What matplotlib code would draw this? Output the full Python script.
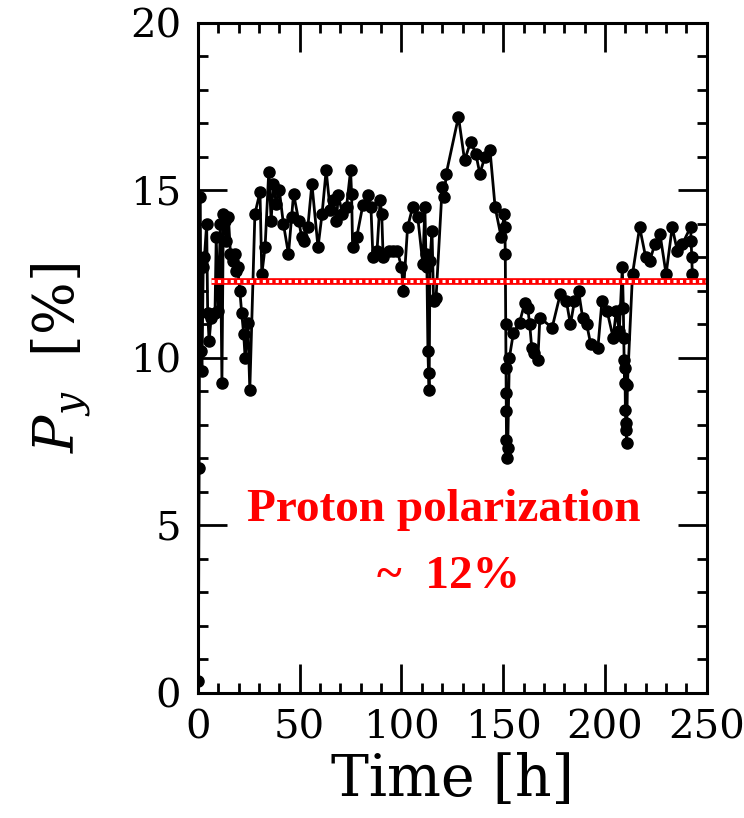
import numpy as np
import matplotlib
matplotlib.use("Agg")
import matplotlib.pyplot as plt
from matplotlib.ticker import MultipleLocator

plt.rcParams['font.family'] = ['DejaVu Serif']
plt.rcParams['mathtext.fontset'] = 'dejavuserif'

# time [h] and polarization [%]
time_h = [0.2, 0.6, 1.0, 1.6, 2.0, 2.6, 3.2, 4.3, 4.8, 5.5, 6.5, 8.4, 9.0, 10.0, 11.0,
          11.8, 12.5, 13.2, 14.0, 15.0, 16.0, 17.0, 18.0, 18.8, 19.5, 20.6, 21.5, 22.5,
          23.2, 24.5, 25.5, 28.0, 30.5, 31.4, 33.0, 34.8, 36.0, 37.0, 38.5, 40.0, 42.0,
          44.5, 46.0, 47.0, 49.5, 51.0, 52.0, 54.0, 56.0, 59.0, 61.0, 63.0, 65.0, 66.5,
          68.0, 69.0, 71.0, 73.0, 75.0, 75.5, 76.0, 78.0, 81.0, 83.5, 85.0, 86.0, 88.0,
          89.5, 90.3, 91.0, 94.0, 96.0, 98.0, 100.0, 101.0, 103.0, 105.5, 108.0, 110.5,
          111.5, 112.0, 112.5, 113.0, 113.3, 113.6, 114.0, 115.0, 115.8, 117.0, 120.0,
          121.0, 122.0, 128.0, 131.0, 134.0, 136.5, 138.5, 141.0, 143.5, 146.0, 149.0,
          150.5, 150.8, 151.0, 151.2, 151.3, 151.4, 151.5, 151.6, 151.8, 152.2, 153.0,
          155.0, 158.0, 160.6, 162.0, 163.0, 164.0, 165.0, 167.0, 168.0, 174.0, 178.0,
          181.0, 183.0, 185.0, 187.0, 189.0, 191.0, 193.0, 196.5, 198.5, 201.0, 204.0,
          205.5, 207.0, 208.5, 209.0, 209.2, 209.4, 209.6, 209.8, 210.0, 210.2, 210.4,
          210.6, 211.0, 213.5, 217.0, 220.0, 222.0, 224.5, 227.0, 230.0, 233.0, 235.5,
          238.0, 242.0, 242.3, 242.6, 242.9]
p_y = [0.35, 6.7, 14.8, 10.2, 9.6, 12.7, 13.0, 14.0, 11.35, 10.5, 11.2, 11.35, 13.6, 11.4, 14.0,
       9.25, 14.3, 14.1, 13.5, 14.2, 13.1, 12.9, 13.1, 12.6, 12.7, 12.0, 11.35, 10.7,
       10.0, 11.05, 9.05, 14.3, 14.95, 12.5, 13.3, 15.55, 14.1, 15.2, 14.6, 15.0, 14.0,
       13.1, 14.2, 14.9, 14.1, 13.6, 13.5, 13.9, 15.2, 13.3, 14.3, 15.6, 14.4, 14.7,
       14.1, 14.85, 14.3, 14.5, 15.6, 14.9, 13.3, 13.6, 14.55, 14.85, 14.5, 13.0, 13.2,
       14.7, 14.3, 13.0, 13.2, 13.2, 13.2, 12.7, 12.0, 13.9, 14.5, 14.2, 12.8,
       14.5, 13.1, 12.7, 10.2, 9.55, 9.05, 12.9, 13.8, 11.7, 11.8, 15.1,
       14.8, 15.5, 17.2, 15.9, 16.45, 16.1, 15.5, 16.0, 16.2, 14.5, 13.6,
       14.3, 13.9, 13.1, 11.0, 9.7, 8.95, 8.4, 7.55, 7.0, 7.3, 10.0,
       10.75, 11.05, 11.65, 11.5, 11.0, 10.3, 10.15, 9.95, 11.2, 10.9, 11.9,
       11.7, 11.0, 11.7, 12.0, 11.2, 11.0, 10.4, 10.3, 11.7, 11.4, 10.6,
       11.4, 10.8, 12.7, 11.5, 10.6, 9.95, 9.25, 9.7, 8.45, 8.05, 7.85,
       7.45, 9.2, 12.5, 13.9, 13.0, 12.9, 13.4, 13.7, 12.5, 13.9, 13.2,
       13.4, 13.9, 13.5, 13.0, 12.5]

mean_level = 12.3
mean_span = [6.4, 250]

fig = plt.figure(figsize=(7.44, 8.18), dpi=100)
ax = fig.add_axes([0.266, 0.153, 0.684, 0.819])

ax.plot(time_h, p_y, '-o', color='black', lw=2.0, ms=8)

# red "checkered" average line
ax.plot(mean_span, [mean_level, mean_level], color='red', lw=4.8, solid_capstyle='butt')
ax.plot(mean_span, [mean_level, mean_level], color='white', lw=2.2,
        linestyle=(0, (1.0, 1.1)), solid_capstyle='butt')

ax.set_xlim(0, 250)
ax.set_ylim(0, 20)
ax.xaxis.set_major_locator(MultipleLocator(50))
ax.xaxis.set_minor_locator(MultipleLocator(10))
ax.yaxis.set_major_locator(MultipleLocator(5))
ax.yaxis.set_minor_locator(MultipleLocator(1))
ax.tick_params(which='both', direction='in', top=True, right=True, width=2.0)
ax.tick_params(which='major', length=21, labelsize=29, pad=12)
ax.tick_params(which='minor', length=7.5)
for s in ax.spines.values():
    s.set_linewidth(2.2)

ax.set_xlabel('Time [h]', fontsize=41, labelpad=4)
ax.set_ylabel(r'$P_y$  [%]', fontsize=40, labelpad=26)

ax.text(121, 5.45, 'Proton polarization', color='red', fontsize=34, fontweight='bold',
        family='Liberation Serif', ha='center', va='center')
ax.text(123, 3.45, '~  12%', color='red', fontsize=34, fontweight='bold',
        family='Liberation Serif', ha='center', va='center')

fig.savefig('out.png', dpi=100)
